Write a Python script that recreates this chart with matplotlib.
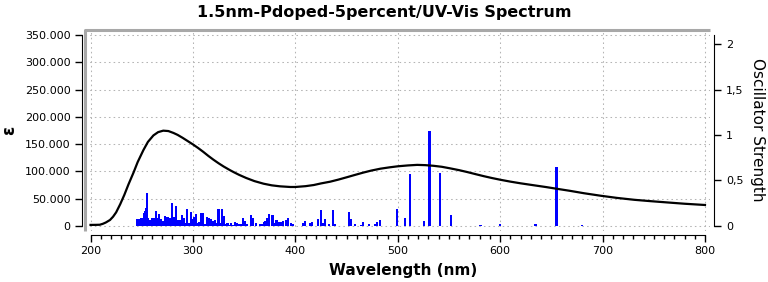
import numpy as np
import matplotlib
matplotlib.use('Agg')
import matplotlib.pyplot as plt
from matplotlib.ticker import FuncFormatter, MultipleLocator

plt.rcParams['font.family'] = ['DejaVu Sans']

# broadened spectrum (nm, epsilon)
wl_curve = [200, 205, 209, 212, 215, 219, 222, 225, 229, 233, 237, 242, 246, 251.6, 256,
            261.4, 266, 271, 276, 281, 285, 290, 295, 300, 305, 310, 315, 320, 325,
            330, 336, 340, 345, 352, 360, 369, 377, 385, 395, 400, 410, 418, 425, 434,
            442, 450, 458, 466, 474, 483, 492, 500, 510, 519, 527, 535, 543, 551, 560,
            568, 576, 584, 592, 600, 610, 620, 633, 645, 655, 668, 682, 698, 714, 731,
            747, 763, 780, 800]
eps_curve = [2000, 2100, 2300, 4000, 6500, 11000, 17000, 25000, 40000, 57000, 76000, 98000,
             117000, 139000, 154000, 166000, 172000, 174700, 174000, 170500, 167000, 161500,
             155500, 149500, 143000, 136000, 128500, 121500, 115000, 109000, 102500, 98500,
             93800, 88000, 82300, 77500, 74500, 72700, 71500, 71500, 73000, 75100, 78000,
             81200, 85000, 89200, 93500, 97700, 101500, 105000, 107500, 109400, 111000,
             112000, 111500, 110300, 108500, 105700, 102300, 98800, 95000, 91300, 87900,
             84800, 81300, 78200, 74600, 71300, 68300, 64500, 60000, 55500, 51500, 48000,
             45500, 43200, 40800, 38500]

# stick transitions (nm, oscillator strength)
wl_sticks = [245.5, 247.0, 247.9, 249.0, 250.5, 252.1, 253.1, 254.1, 255.2, 256.5, 258.1,
             259.8, 261.2, 262.5, 264.0, 265.7, 267.3, 269.0, 270.5, 272.5, 274.2, 275.8,
             277.8, 279.5, 281.1, 282.3, 283.6, 285.5, 287.2, 289.2, 291.0, 292.6, 294.2,
             296.0, 298.0, 299.9, 301.5, 303.2, 304.8, 306.4, 308.0, 309.4, 310.6, 312.0,
             313.6, 315.2, 316.5, 318.0, 319.5, 321.4, 323.0, 324.3, 325.7, 326.8, 328.3,
             329.9, 331.4, 332.8, 334.2, 335.6, 337.2, 339.0, 341.1, 343.4, 345.4, 347.0,
             348.8, 351.0, 353.0, 356.8, 358.8, 362.0, 365.8, 367.4, 369.0, 370.5, 372.5,
             374.5, 377.0, 378.0, 379.7, 381.6, 383.6, 385.5, 387.5, 390.8, 392.7, 396.0,
             398.0, 407.7, 409.6, 414.5, 416.3, 422.0, 425.0, 426.8, 428.9, 432.8, 436.7,
             438.3, 452.4, 454.6, 458.5, 464.1, 465.6, 472.2, 477.8, 479.3, 483.0, 499.6,
             507.5, 512.4, 526.0, 531.0, 541.4, 552.4, 580.8, 600.0, 634.5, 655.0, 679.5]
f_sticks = [0.077, 0.077, 0.066, 0.092, 0.092, 0.139, 0.165, 0.201, 0.363, 0.084, 0.070,
            0.084, 0.092, 0.092, 0.165, 0.092, 0.132, 0.077, 0.055, 0.110, 0.099, 0.099,
            0.088, 0.253, 0.099, 0.040, 0.220, 0.066, 0.066, 0.121, 0.092, 0.033, 0.187,
            0.037, 0.158, 0.077, 0.103, 0.132, 0.037, 0.048, 0.143, 0.143, 0.026, 0.026,
            0.099, 0.092, 0.077, 0.077, 0.055, 0.070, 0.037, 0.187, 0.187, 0.029, 0.187,
            0.110, 0.026, 0.033, 0.033, 0.011, 0.029, 0.011, 0.040, 0.033, 0.018, 0.018,
            0.088, 0.055, 0.018, 0.121, 0.092, 0.033, 0.022, 0.022, 0.040, 0.055, 0.084,
            0.132, 0.125, 0.125, 0.029, 0.070, 0.040, 0.048, 0.055, 0.070, 0.088, 0.037,
            0.022, 0.033, 0.059, 0.033, 0.040, 0.077, 0.176, 0.029, 0.081, 0.018, 0.176,
            0.018, 0.154, 0.077, 0.018, 0.011, 0.040, 0.022, 0.022, 0.040, 0.066, 0.187,
            0.088, 0.571, 0.060, 1.044, 0.586, 0.120, 0.010, 0.020, 0.020, 0.648, 0.010]

eps_ticks = [0, 50000, 100000, 150000, 200000, 250000, 300000, 350000]
osc_ticks = [0, 0.5, 1, 1.5, 2]

fig = plt.figure(figsize=(7.68, 2.82), dpi=100)
ax = fig.add_axes([85 / 768, 51 / 282, 625 / 768, 201 / 282])

ax.set_xlim(194.6, 804.9)
ax.set_ylim(-9160, 359160)
ax.set_xticks([200, 300, 400, 500, 600, 700, 800])
ax.xaxis.set_minor_locator(MultipleLocator(10))
ax.set_yticks(eps_ticks)
ax.yaxis.set_major_formatter(FuncFormatter(lambda v, p: f"{int(round(v)):,}".replace(",", ".")))
ax.grid(True, linestyle=(0, (1.5, 3)), color='#b4b4b4', linewidth=0.75)
ax.set_axisbelow(True)

for s in ['top', 'right']:
    ax.spines[s].set_visible(False)
ax.spines['left'].set_position(('outward', 2.5))
ax.spines['left'].set_bounds(0, 350000)
ax.spines['bottom'].set_position(('outward', 3))
ax.spines['bottom'].set_bounds(200, 800)
ax.tick_params(axis='both', which='major', labelsize=8, length=5, width=1, pad=3)
ax.tick_params(axis='x', which='minor', length=3, width=1)

# grey frame top/left
ax.plot([0, 0, 1], [0, 1, 1], transform=ax.transAxes, color='#a8a8a8', lw=2.2,
        clip_on=False, solid_capstyle='butt')

# oscillator strengths
ax2 = ax.twinx()
ax2.bar(wl_sticks, f_sticks, width=2.0, color='#0000ff', linewidth=0, antialiased=False)
ax2.set_ylim(-0.055, 2.154)
ax2.set_yticks(osc_ticks)
ax2.yaxis.set_major_formatter(FuncFormatter(lambda v, p: f"{v:g}".replace(".", ",")))
for s in ['top', 'left', 'bottom']:
    ax2.spines[s].set_visible(False)
ax2.spines['right'].set_position(('outward', 3))
ax2.spines['right'].set_bounds(0, 2.1)
ax2.tick_params(axis='y', labelsize=8, length=5, width=1, pad=3.5)

# spectrum curve on top
ax3 = ax.twinx()
ax3.set_ylim(ax.get_ylim())
ax3.axis('off')
ax3.plot(wl_curve, eps_curve, color='black', lw=1.6, solid_joinstyle='round')

fig.text(384 / 768, 1 - 13 / 282, '1.5nm-Pdoped-5percent/UV-Vis Spectrum',
         ha='center', va='center', fontsize=11.5, fontweight='bold')
fig.text(403 / 768, 1 - 271 / 282, 'Wavelength (nm)', ha='center', va='center',
         fontsize=11, fontweight='bold')
fig.text(9 / 768, 1 - 130 / 282, 'ε', ha='center', va='center', rotation=90,
         fontsize=12, fontweight='bold')
fig.text(757 / 768, 1 - 130 / 282, 'Oscillator Strength', ha='center', va='center',
         rotation=270, fontsize=11)

plt.savefig('out.png', dpi=100)
